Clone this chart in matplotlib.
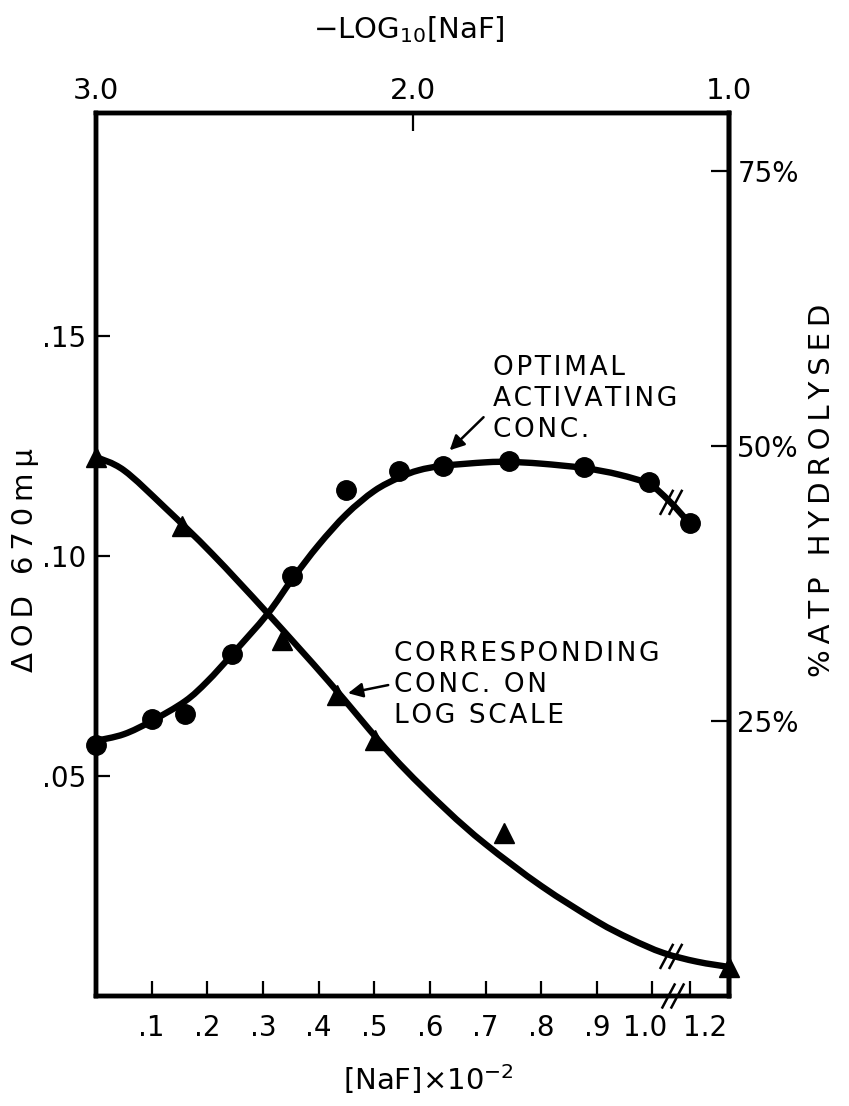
import matplotlib.pyplot as plt
import matplotlib.transforms as mtransforms
from matplotlib.path import Path
from matplotlib.patches import PathPatch
import numpy as np

plt.rcParams['font.family'] = ['DejaVu Sans']

# [NaF] x 10^-2 (bottom scale) and delta OD at 670 mu for the circles
naf_conc = [0.0, 0.10, 0.16, 0.245, 0.353, 0.45, 0.544, 0.623, 0.742, 0.877, 0.994, 1.2]
od_circles = [0.057, 0.063, 0.064, 0.0777, 0.0955, 0.115, 0.1194, 0.1205, 0.1216, 0.1203, 0.1169, 0.1074]

# drawn fit through the circles
fit_conc = [0.0, 0.05, 0.10, 0.16, 0.20, 0.245, 0.308, 0.353, 0.40, 0.45, 0.50, 0.544,
            0.58, 0.623, 0.70, 0.742, 0.80, 0.877, 0.94, 0.994, 1.09, 1.2]
fit_od = [0.058, 0.0595, 0.0625, 0.067, 0.0715, 0.0777, 0.0868, 0.0948, 0.1025, 0.1095,
          0.1148, 0.1178, 0.1195, 0.1205, 0.1213, 0.1214, 0.1210, 0.1200, 0.1185, 0.1163,
          0.1125, 0.1074]

# -log10[NaF] (top scale) and delta OD for the triangles
neg_log = [3.0, 2.727, 2.411, 2.237, 2.117, 1.711, 1.0]
od_triangles = [0.1225, 0.1068, 0.081, 0.0685, 0.0583, 0.037, 0.0066]

# drawn fit through the triangles
fit_log = [3.0, 2.912, 2.782, 2.633, 2.458, 2.265, 2.063, 1.896, 1.769,
           1.593, 1.418, 1.312, 1.208, 1.101, 1.0]
fit_log_od = [0.1225, 0.1195, 0.1110, 0.1005, 0.0870, 0.0715, 0.0545, 0.0425, 0.0345,
              0.0250, 0.0170, 0.0130, 0.0098, 0.0078, 0.0066]

bottom_ticks = [0.1, 0.2, 0.3, 0.4, 0.5, 0.6, 0.7, 0.8, 0.9, 1.0, 1.2]
bottom_labels = ['.1', '.2', '.3', '.4', '.5', '.6', '.7', '.8', '.9', '1.0', '1.2']
top_ticks = [3.0, 2.0, 1.0]
top_labels = ['3.0', '2.0', '1.0']
od_ticks = [0.05, 0.10, 0.15]
od_labels = ['.05', '.10', '.15']
pct_ticks = [25, 50, 75]
pct_labels = ['25%', '50%', '75%']

# broken axis: everything past 1.0 is squeezed
SQUEEZE = 0.335


def fwd(x):
    x = np.asarray(x, dtype=float)
    return np.where(x <= 1.0, x, 1.0 + (x - 1.0) * SQUEEZE)


def inv(x):
    x = np.asarray(x, dtype=float)
    return np.where(x <= 1.0, x, 1.0 + (x - 1.0) / SQUEEZE)


def spaced(s, sep='\u200a'):
    # open up the lettering a little, line by line
    return '\n'.join(sep.join(line) for line in s.split('\n'))


W, H = 849, 1106
fig = plt.figure(figsize=(W / 100, H / 100), dpi=100)
ax = fig.add_axes([96 / W, 1 - 996 / H, 633 / W, 883 / H])

ax.set_xscale('function', functions=(fwd, inv))
ax.set_xlim(0, float(inv(1.1375)))
ax.set_ylim(0, 0.2007)

LW_SPINE = 3.2
LW_CURVE = 4.6
TICK_FS = 20

ax.plot(naf_conc, od_circles, 'o', color='black', ms=14, zorder=4, clip_on=False)

ax.set_xticks(bottom_ticks)
ax.set_xticklabels(bottom_labels)
ax.set_yticks(od_ticks)
ax.set_yticklabels(od_labels)
ax.tick_params(axis='x', direction='in', length=11, width=1.6, labelsize=TICK_FS, pad=13)
ax.tick_params(axis='y', direction='in', length=10, width=1.6, labelsize=TICK_FS, pad=7)
ax.minorticks_off()
for s in ax.spines.values():
    s.set_linewidth(LW_SPINE)

# nudge the two labels either side of the break apart
xlabels = ax.get_xticklabels()
xlabels[-2].set_transform(xlabels[-2].get_transform()
                          + mtransforms.ScaledTranslation(-5 / 72, 0, fig.dpi_scale_trans))
xlabels[-1].set_transform(xlabels[-1].get_transform()
                          + mtransforms.ScaledTranslation(11 / 72, 0, fig.dpi_scale_trans))

# top scale: -log10 of the concentration
ax_top = ax.twiny()
ax_top.set_xlim(3.0, 1.0)
ax_top.plot(neg_log, od_triangles, '^', color='black', ms=15, zorder=4, clip_on=False)
ax_top.set_xticks(top_ticks)
ax_top.set_xticklabels(top_labels)
ax_top.tick_params(axis='x', direction='in', length=13, width=1.6, labelsize=TICK_FS + 1, pad=6)
for s in ax_top.spines.values():
    s.set_linewidth(LW_SPINE)

# right scale: percent of ATP hydrolysed
sec = ax.secondary_yaxis('right', functions=(lambda y: y * 400, lambda p: p / 400))
sec.set_yticks(pct_ticks)
sec.set_yticklabels(pct_labels)
sec.tick_params(direction='in', length=13, width=1.6, labelsize=TICK_FS, pad=6)
sec.spines['right'].set_linewidth(LW_SPINE)


def smooth_curve(axis, xs, ys, **kw):
    # Catmull-Rom through the points, drawn as cubic Beziers in pixel space
    pts = axis.transData.transform(np.column_stack([xs, ys]))
    verts = [pts[0]]
    codes = [Path.MOVETO]
    n = len(pts)
    for i in range(n - 1):
        p0 = pts[max(i - 1, 0)]
        p1 = pts[i]
        p2 = pts[i + 1]
        p3 = pts[min(i + 2, n - 1)]
        verts += [p1 + (p2 - p0) / 6, p2 - (p3 - p1) / 6, p2]
        codes += [Path.CURVE4] * 3
    axis.add_patch(PathPatch(Path(verts, codes), transform=mtransforms.IdentityTransform(),
                             fill=False, capstyle='round', joinstyle='round', **kw))


smooth_curve(ax, fit_conc, fit_od, lw=LW_CURVE, edgecolor='black', zorder=3)
smooth_curve(ax_top, fit_log, fit_log_od, lw=LW_CURVE, edgecolor='black', zorder=3)

# axis titles
fig.text(409 / W, 1 - 30 / H, r'$-$LOG$_{10}$[NaF]', fontsize=21, ha='center', va='center')
fig.text(428 / W, 1 - 1079 / H, r'[NaF]$\times$10$^{-2}$', fontsize=21, ha='center', va='center')
fig.text(25 / W, 1 - 560 / H, spaced('ΔOD 670mμ', '\u2009'), fontsize=21, rotation=90,
         ha='center', va='center')
fig.text(822 / W, 1 - 490 / H, spaced('%ATP HYDROLYSED', '\u2009'), fontsize=21, rotation=90,
         ha='center', va='center')

# labels with arrows
ax.text(0.713, 0.1356, spaced('OPTIMAL\nACTIVATING\nCONC.'), fontsize=19, linespacing=1.25,
        ha='left', va='center')
ax.annotate('', xy=(0.632, 0.1236), xytext=(0.70, 0.132),
            arrowprops=dict(arrowstyle='-|>', color='black', lw=1.8, mutation_scale=22))
ax.text(0.535, 0.0707, spaced('CORRESPONDING\nCONC. ON\nLOG SCALE'), fontsize=19,
        linespacing=1.25, ha='left', va='center')
ax.annotate('', xy=(0.448, 0.0687), xytext=(0.530, 0.0708),
            arrowprops=dict(arrowstyle='-|>', color='black', lw=1.8, mutation_scale=22))


def break_marks(x, y, gap_px=9, half_px=13, angle=62):
    # two short parallel slashes centred on a data point
    cx, cy = ax.transData.transform((x, y))
    dx = half_px * np.cos(np.radians(angle))
    dy = half_px * np.sin(np.radians(angle))
    to_axes = ax.transAxes.inverted()
    for off in (-gap_px / 2, gap_px / 2):
        p0 = to_axes.transform((cx + off - dx, cy - dy))
        p1 = to_axes.transform((cx + off + dx, cy + dy))
        ax.plot([p0[0], p1[0]], [p0[1], p1[1]], transform=ax.transAxes, color='black',
                lw=1.8, clip_on=False, zorder=6)


break_marks(1.10, 0.1122)
break_marks(1.10, 0.0090)
break_marks(1.11, 0.0)

plt.savefig('out.png', dpi=100)
